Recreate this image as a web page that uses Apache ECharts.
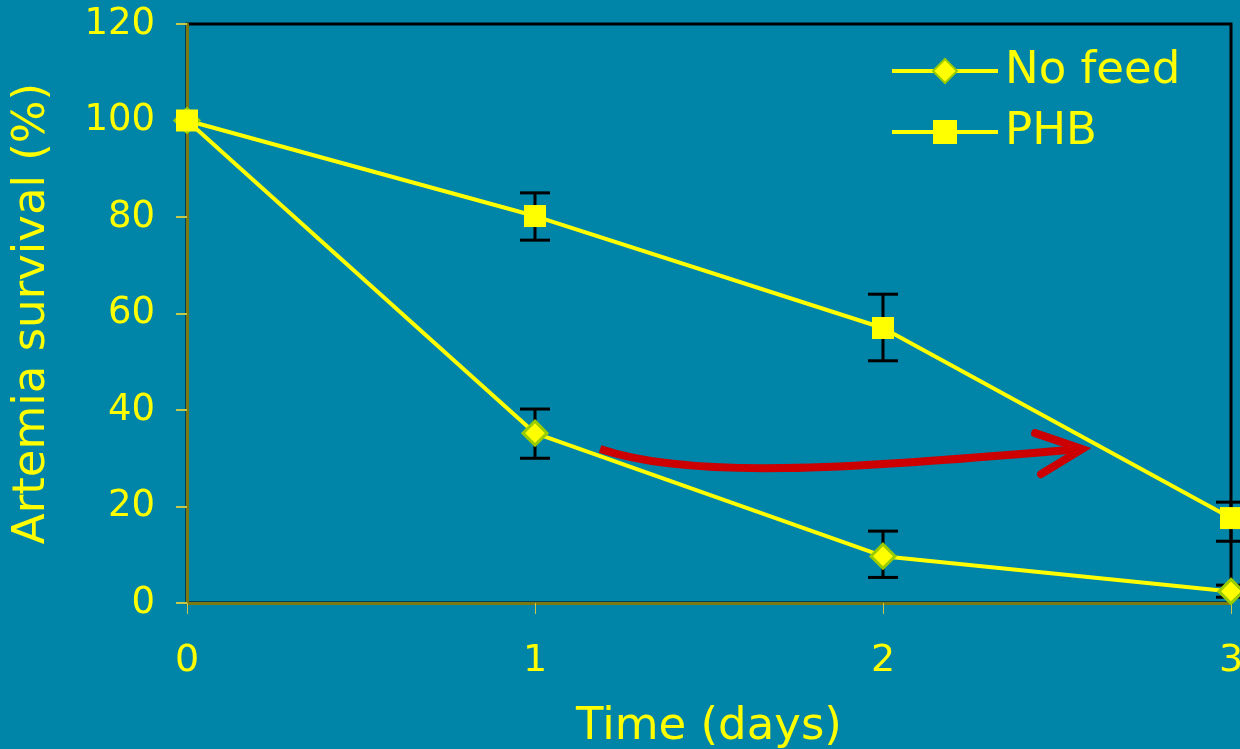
<!DOCTYPE html>
<html>
<head>
<meta charset="utf-8">
<script src="https://cdn.jsdelivr.net/npm/echarts@6/dist/echarts.min.js"></script>
<style>
html,body{margin:0;padding:0;background:#0084A8;}
#chart{width:1240px;height:749px;}
</style>
</head>
<body>
<div id="chart"></div>
<script>
// ---- data ----
const days = [0, 1, 2, 3];
const noFeed = [100, 35.2, 9.7, 2.4];
const noFeedLow = [100, 30.0, 5.3, 1.2];
const noFeedHigh = [100, 40.2, 14.9, 3.7];
const phb = [100, 80.2, 57.0, 17.6];
const phbLow = [100, 75.2, 50.2, 12.8];
const phbHigh = [100, 85.0, 64.0, 20.9];
const yTicks = [0, 20, 40, 60, 80, 100, 120];
const xTicks = [0, 1, 2, 3];
// annotation arrow (data space): start, control1, control2, end, head-left, head-right
const arrowCurve = [[1.187, 31.9], [1.474, 24.9], [1.991, 28.6], [2.572, 31.9]];
const arrowHead = [[2.437, 35.2], [2.572, 31.9], [2.454, 26.7]];

const FONT = 'DejaVu Sans';
const YEL = '#FFFF00';

function errData(xs, lows, highs) {
  return xs.map((x, i) => [x, lows[i], highs[i]]).filter(d => d[2] > d[1]);
}

function errRender(params, api) {
  const x = api.value(0);
  const lo = api.coord([x, api.value(1)]);
  const hi = api.coord([x, api.value(2)]);
  const half = 15;
  const st = { stroke: '#000', lineWidth: 3 };
  return {
    type: 'group',
    children: [
      { type: 'line', shape: { x1: lo[0], y1: lo[1], x2: hi[0], y2: hi[1] }, style: st },
      { type: 'line', shape: { x1: lo[0] - half, y1: lo[1], x2: lo[0] + half, y2: lo[1] }, style: st },
      { type: 'line', shape: { x1: hi[0] - half, y1: hi[1], x2: hi[0] + half, y2: hi[1] }, style: st }
    ]
  };
}

function arrowRender(params, api) {
  const c = arrowCurve.map(p => api.coord(p));
  const h = arrowHead.map(p => api.coord(p));
  return {
    type: 'group',
    children: [
      { type: 'bezierCurve',
        shape: { x1: c[0][0], y1: c[0][1], cpx1: c[1][0], cpy1: c[1][1], cpx2: c[2][0], cpy2: c[2][1], x2: c[3][0], y2: c[3][1] },
        style: { stroke: '#CC0000', lineWidth: 8, fill: null, lineCap: 'butt' } },
      { type: 'polyline',
        shape: { points: h },
        style: { stroke: '#CC0000', lineWidth: 8, fill: null, lineCap: 'round', lineJoin: 'miter' } }
    ]
  };
}

const chart = echarts.init(document.getElementById('chart'));
chart.setOption({
  backgroundColor: '#0084A8',
  animation: false,
  grid: { left: 187, right: 9, top: 24, bottom: 146, containLabel: false, outerBoundsMode: 'none',
    show: true, borderColor: '#000', borderWidth: 3, backgroundColor: 'transparent' },
  legend: {
    data: ['No feed', 'PHB'],
    orient: 'vertical',
    left: 890,
    top: 41,
    itemWidth: 106,
    itemHeight: 30,
    itemGap: 1,
    padding: 0,
    lineStyle: { width: 4 },
    textStyle: { color: YEL, fontSize: 45, fontFamily: FONT, lineHeight: 60, padding: [0, 0, 0, 2] }
  },
  xAxis: {
    type: 'value', min: 0, max: 3, interval: 1,
    name: 'Time (days)', nameLocation: 'middle', nameGap: 102,
    nameTextStyle: { color: YEL, fontSize: 45, fontFamily: FONT },
    axisLine: { show: true, onZero: false, lineStyle: { color: '#7a7a10', width: 3 } },
    axisTick: { show: true, length: 11, inside: false, lineStyle: { color: '#c8c84a', width: 1 } },
    axisLabel: { color: YEL, fontSize: 38, fontFamily: FONT, margin: 39 },
    splitLine: { show: false }
  },
  yAxis: {
    type: 'value', min: 0, max: 120, interval: 20,
    name: 'Artemia survival (%)', nameLocation: 'middle', nameGap: 132,
    nameTextStyle: { color: YEL, fontSize: 45, fontFamily: FONT },
    axisLine: { show: true, lineStyle: { color: '#7a7a10', width: 3 } },
    axisTick: { show: true, length: 11, inside: false, lineStyle: { color: '#c8c84a', width: 2 } },
    axisLabel: { color: YEL, fontSize: 37, fontFamily: FONT, margin: 32 },
    splitLine: { show: false }
  },
  series: [
    { type: 'custom', name: 'errPHB', renderItem: errRender, data: errData(days, phbLow, phbHigh), z: 1, silent: true, clip: false },
    { type: 'custom', name: 'errNF', renderItem: errRender, data: errData(days, noFeedLow, noFeedHigh), z: 1, silent: true, clip: false },
    { type: 'custom', name: 'arrow', renderItem: arrowRender, data: [[0, 0]], z: 4, silent: true, clip: false },
    { type: 'line', name: 'No feed', data: days.map((d, i) => [d, noFeed[i]]), z: 3,
      symbol: 'diamond', symbolSize: 24, showAllSymbol: true,
      lineStyle: { color: YEL, width: 4 },
      itemStyle: { color: YEL, borderColor: '#99CC00', borderWidth: 3 },
      clip: false },
    { type: 'line', name: 'PHB', data: days.map((d, i) => [d, phb[i]]), z: 3,
      symbol: 'rect', symbolSize: 22, showAllSymbol: true,
      lineStyle: { color: YEL, width: 4 },
      itemStyle: { color: YEL, borderColor: YEL, borderWidth: 0 },
      clip: false }
  ]
});
</script>
</body>
</html>
